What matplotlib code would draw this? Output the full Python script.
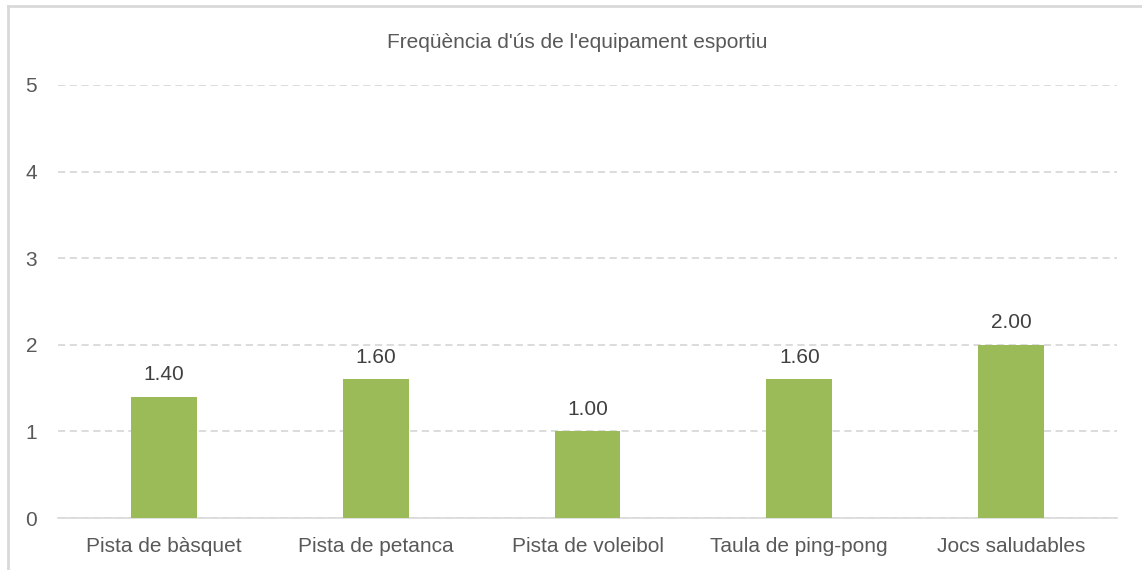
import matplotlib.pyplot as plt
from matplotlib.lines import Line2D

plt.rcParams['font.family'] = ['Liberation Sans', 'DejaVu Sans']

categories = ['Pista de bàsquet', 'Pista de petanca', 'Pista de voleibol',
              'Taula de ping-pong', 'Jocs saludables']
values = [1.40, 1.60, 1.00, 1.60, 2.00]
yticks = [0, 1, 2, 3, 4, 5]
title = "Freqüència d'ús de l'equipament esportiu"

GREEN = '#9BBB59'
TEXT = '#595959'
GRID = '#D9D9D9'

fig = plt.figure(figsize=(11.42, 5.70), dpi=100)
ax = fig.add_axes([58 / 1142, 52 / 570, (1117 - 58) / 1142, (518 - 85) / 570])

x = range(len(categories))
ax.bar(x, values, width=0.31, color=GREEN, zorder=3)
for i, v in zip(x, values):
    ax.annotate(f'{v:.2f}', (i, v), xytext=(0, 9), textcoords='offset points',
                ha='center', va='bottom', fontsize=15, color='#404040')

ax.set_xlim(-0.5, len(categories) - 0.5)
ax.set_ylim(0, 5)
ax.set_yticks(yticks)
ax.set_xticks(list(x))
ax.set_xticklabels(categories)
ax.tick_params(axis='both', length=0, labelsize=15, labelcolor=TEXT)
ax.tick_params(axis='x', pad=14)
ax.tick_params(axis='y', pad=15)
ax.yaxis.grid(True, color=GRID, linestyle=(0, (4, 2.5)), linewidth=1.3, zorder=0)
for s in ['top', 'right', 'left']:
    ax.spines[s].set_visible(False)
ax.spines['bottom'].set_color(GRID)
ax.spines['bottom'].set_linewidth(1.2)

fig.text(577 / 1142, 1 - 42 / 570, title, ha='center', va='center',
         fontsize=15, color=TEXT)

# chart-area border (top and left edges visible in the crop)
fig.add_artist(Line2D([8 / 1142, 8 / 1142], [0, 1 - 6 / 570], transform=fig.transFigure,
                      color=GRID, linewidth=2))
fig.add_artist(Line2D([8 / 1142, 1], [1 - 6 / 570, 1 - 6 / 570], transform=fig.transFigure,
                      color=GRID, linewidth=2))

fig.savefig('out.png', dpi=100)
